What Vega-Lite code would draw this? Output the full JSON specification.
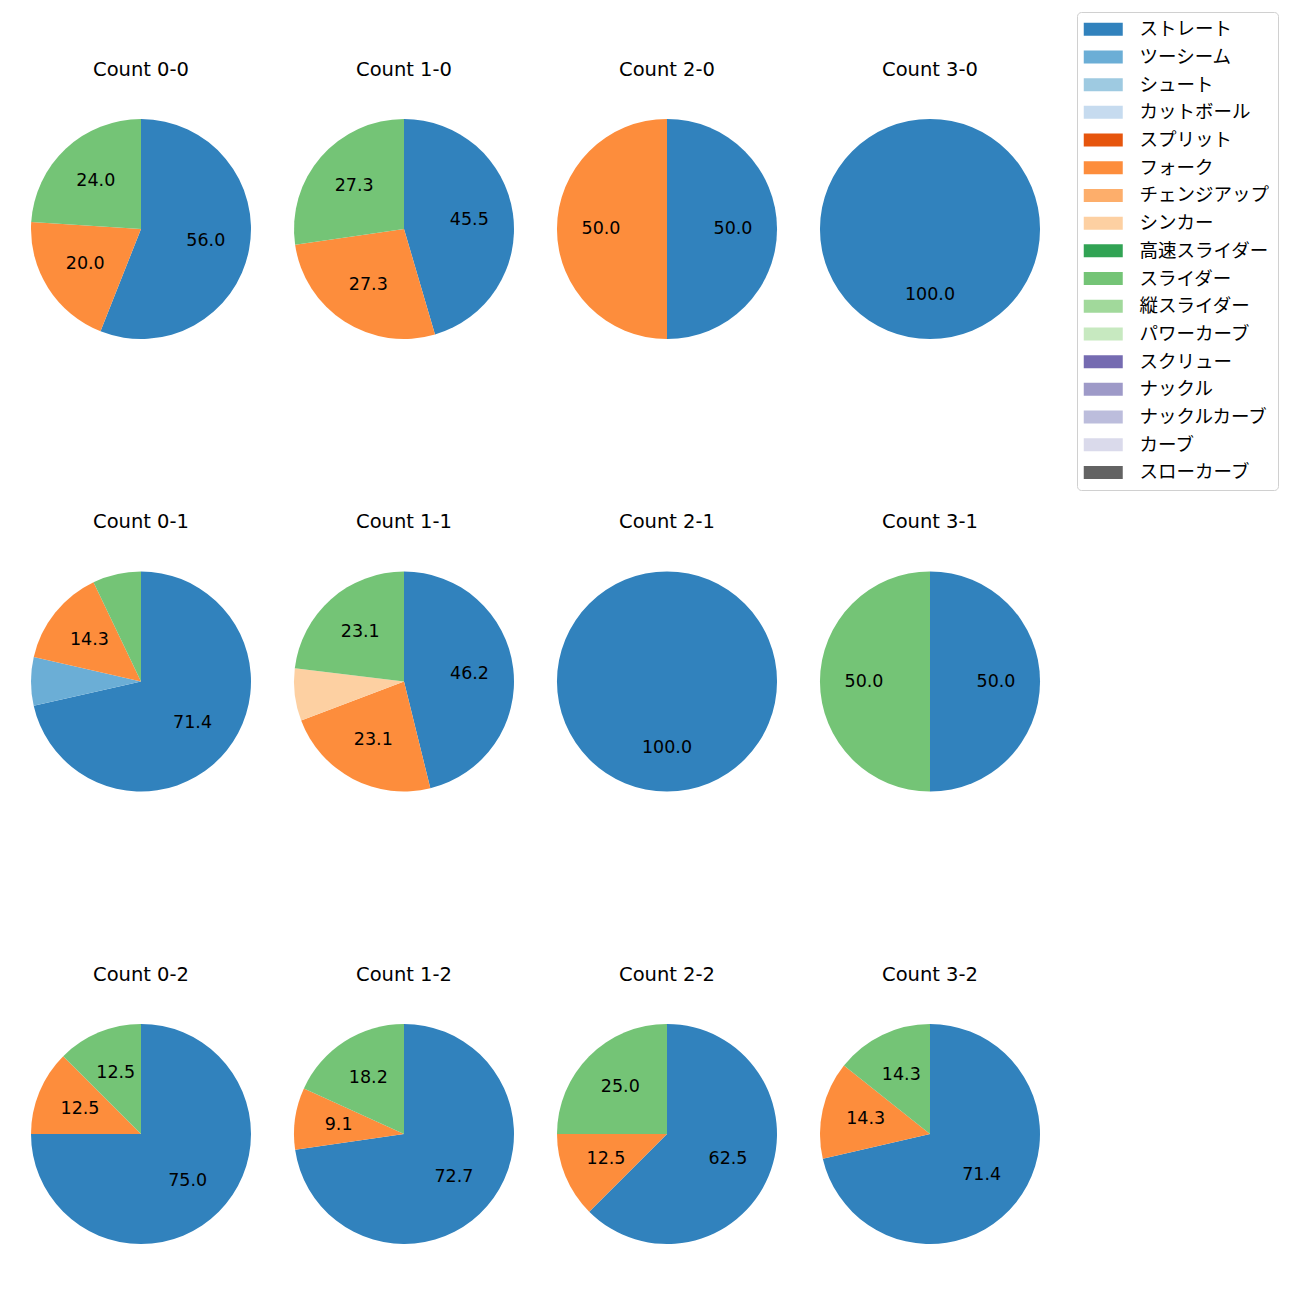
{
  "$schema": "https://vega.github.io/schema/vega-lite/v6.json",
  "padding": {"left": 31, "top": 11, "right": 0, "bottom": 0},
  "background": "white",
  "data": {
    "values": [
      {"count": "Count 0-0", "type": "ストレート", "o": 0, "pct": 56.0},
      {"count": "Count 0-0", "type": "フォーク", "o": 5, "pct": 20.0},
      {"count": "Count 0-0", "type": "スライダー", "o": 9, "pct": 24.0},
      {"count": "Count 1-0", "type": "ストレート", "o": 0, "pct": 45.5},
      {"count": "Count 1-0", "type": "フォーク", "o": 5, "pct": 27.3},
      {"count": "Count 1-0", "type": "スライダー", "o": 9, "pct": 27.3},
      {"count": "Count 2-0", "type": "ストレート", "o": 0, "pct": 50.0},
      {"count": "Count 2-0", "type": "フォーク", "o": 5, "pct": 50.0},
      {"count": "Count 3-0", "type": "ストレート", "o": 0, "pct": 100.0},
      {"count": "Count 0-1", "type": "ストレート", "o": 0, "pct": 71.4},
      {"count": "Count 0-1", "type": "ツーシーム", "o": 1, "pct": 7.1},
      {"count": "Count 0-1", "type": "フォーク", "o": 5, "pct": 14.3},
      {"count": "Count 0-1", "type": "スライダー", "o": 9, "pct": 7.1},
      {"count": "Count 1-1", "type": "ストレート", "o": 0, "pct": 46.2},
      {"count": "Count 1-1", "type": "フォーク", "o": 5, "pct": 23.1},
      {"count": "Count 1-1", "type": "シンカー", "o": 7, "pct": 7.7},
      {"count": "Count 1-1", "type": "スライダー", "o": 9, "pct": 23.1},
      {"count": "Count 2-1", "type": "ストレート", "o": 0, "pct": 100.0},
      {"count": "Count 3-1", "type": "ストレート", "o": 0, "pct": 50.0},
      {"count": "Count 3-1", "type": "スライダー", "o": 9, "pct": 50.0},
      {"count": "Count 0-2", "type": "ストレート", "o": 0, "pct": 75.0},
      {"count": "Count 0-2", "type": "フォーク", "o": 5, "pct": 12.5},
      {"count": "Count 0-2", "type": "スライダー", "o": 9, "pct": 12.5},
      {"count": "Count 1-2", "type": "ストレート", "o": 0, "pct": 72.7},
      {"count": "Count 1-2", "type": "フォーク", "o": 5, "pct": 9.1},
      {"count": "Count 1-2", "type": "スライダー", "o": 9, "pct": 18.2},
      {"count": "Count 2-2", "type": "ストレート", "o": 0, "pct": 62.5},
      {"count": "Count 2-2", "type": "フォーク", "o": 5, "pct": 12.5},
      {"count": "Count 2-2", "type": "スライダー", "o": 9, "pct": 25.0},
      {"count": "Count 3-2", "type": "ストレート", "o": 0, "pct": 71.4},
      {"count": "Count 3-2", "type": "フォーク", "o": 5, "pct": 14.3},
      {"count": "Count 3-2", "type": "スライダー", "o": 9, "pct": 14.3}
    ]
  },
  "facet": {
    "field": "count",
    "type": "nominal",
    "sort": ["Count 0-0", "Count 1-0", "Count 2-0", "Count 3-0", "Count 0-1", "Count 1-1", "Count 2-1", "Count 3-1", "Count 0-2", "Count 1-2", "Count 2-2", "Count 3-2"],
    "header": {
      "title": null,
      "labelFontSize": 19.5,
      "labelFont": "DejaVu Sans",
      "labelColor": "black",
      "labelPadding": 39
    }
  },
  "columns": 4,
  "spacing": {"row": 172.5, "column": 43},
  "resolve": {"scale": {"theta": "independent"}},
  "spec": {
    "width": 220,
    "height": 220,
    "layer": [
      {
        "mark": {"type": "arc", "stroke": null},
        "encoding": {
          "theta": {"field": "pct", "type": "quantitative", "stack": true},
          "order": {"field": "o", "type": "quantitative"},
          "color": {
            "field": "type",
            "type": "nominal",
            "scale": {
              "domain": ["ストレート", "ツーシーム", "シュート", "カットボール", "スプリット", "フォーク", "チェンジアップ", "シンカー", "高速スライダー", "スライダー", "縦スライダー", "パワーカーブ", "スクリュー", "ナックル", "ナックルカーブ", "カーブ", "スローカーブ"],
              "range": ["#3182bd", "#6baed6", "#9ecae1", "#c6dbef", "#e6550d", "#fd8d3c", "#fdae6b", "#fdd0a2", "#31a354", "#74c476", "#a1d99b", "#c7e9c0", "#756bb1", "#9e9ac8", "#bcbddc", "#dadaeb", "#636363"]
            },
            "legend": {
              "title": null,
              "orient": "none",
              "legendX": 1046,
              "legendY": -107,
              "labelFontSize": 18.5,
              "labelFont": "Noto Sans CJK JP",
              "labelColor": "black",
              "symbolType": "M-3,-1H3V1H-3Z",
              "symbolSize": 169,
              "symbolStrokeWidth": 0,
              "symbolOpacity": 1,
              "symbolOffset": 9,
              "labelOffset": 27,
              "rowPadding": 8.7,
              "padding": 8,
              "strokeColor": "#d0d0d0",
              "cornerRadius": 4,
              "fillColor": "white"
            }
          }
        }
      },
      {
        "mark": {"type": "text", "radius": 66, "fontSize": 17.5, "font": "DejaVu Sans", "color": "black"},
        "encoding": {
          "theta": {"field": "pct", "type": "quantitative", "stack": true},
          "order": {"field": "o", "type": "quantitative"},
          "text": {
            "condition": {"test": "datum.pct >= 8", "field": "pct", "type": "quantitative", "format": ".1f"},
            "value": ""
          }
        }
      }
    ]
  },
  "config": {"view": {"stroke": null}}
}
